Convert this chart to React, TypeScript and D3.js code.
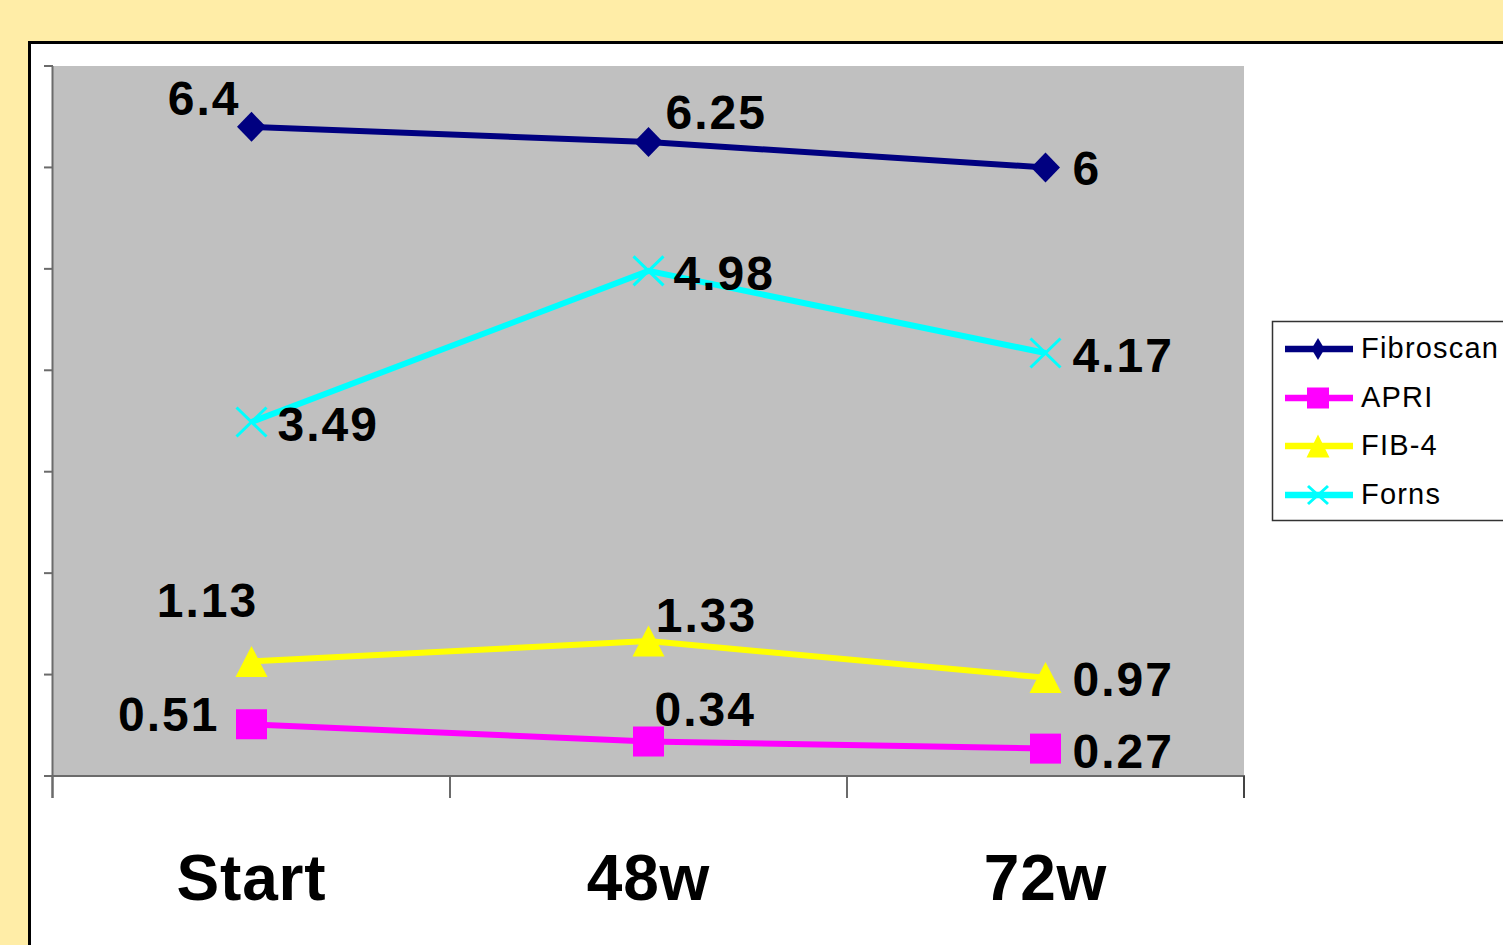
import React, { useEffect } from "react";
import * as d3 from "d3";

// Time points on the x axis
const timepoints = ["Start", "48w", "72w"];

// Score values per series
const fibroscanValues = [6.4, 6.25, 6];
const apriValues = [0.51, 0.34, 0.27];
const fib4Values = [1.13, 1.33, 0.97];
const fornsValues = [3.49, 4.98, 4.17];

// Y-axis tick values (no labels shown)
const yTicks = [0, 1, 2, 3, 4, 5, 6, 7];

const seriesNames = ["Fibroscan", "APRI", "FIB-4", "Forns"];

type Marker = "diamond" | "square" | "triangle" | "x";

// Per-point label offsets: [dx, dy, anchor]
type Place = [number, number, "start" | "middle" | "end"];

const W = 1503;
const H = 945;
const FONT = "'Liberation Sans', Arial, Helvetica, sans-serif";

const plot = { left: 53, right: 1244, top: 66, bottom: 776 };

const x = d3
  .scaleBand<string>()
  .domain(timepoints)
  .range([plot.left, plot.right])
  .paddingInner(0)
  .paddingOuter(0);

const y = d3.scaleLinear().domain([0, 7]).range([plot.bottom, plot.top]);

const cx = (c: string) => (x(c) ?? 0) + x.bandwidth() / 2;

const series: {
  name: string;
  values: number[];
  color: string;
  marker: Marker;
  places: Place[];
}[] = [
  {
    name: seriesNames[0],
    values: fibroscanValues,
    color: "#000080",
    marker: "diamond",
    places: [
      [-11, -12, "end"],
      [17, -13, "start"],
      [27, 18, "start"],
    ],
  },
  {
    name: seriesNames[1],
    values: apriValues,
    color: "#FF00FF",
    marker: "square",
    places: [
      [-32, 7, "end"],
      [6, -16, "start"],
      [27, 19, "start"],
    ],
  },
  {
    name: seriesNames[2],
    values: fib4Values,
    color: "#FFFF00",
    marker: "triangle",
    places: [
      [-44, -44, "middle"],
      [58, -9, "middle"],
      [27, 18, "start"],
    ],
  },
  {
    name: seriesNames[3],
    values: fornsValues,
    color: "#00FFFF",
    marker: "x",
    places: [
      [26, 19, "start"],
      [25, 19, "start"],
      [27, 19, "start"],
    ],
  },
];

function MarkerShape({
  kind,
  px,
  py,
  color,
  size,
}: {
  kind: Marker;
  px: number;
  py: number;
  color: string;
  size: { w: number; h: number };
}) {
  const hw = size.w / 2;
  const hh = size.h / 2;
  if (kind === "diamond") {
    return (
      <path
        d={`M${px},${py - hh}L${px + hw},${py}L${px},${py + hh}L${px - hw},${py}Z`}
        fill={color}
      />
    );
  }
  if (kind === "square") {
    return <rect x={px - hw} y={py - hh} width={size.w} height={size.h} fill={color} />;
  }
  if (kind === "triangle") {
    return (
      <path
        d={`M${px},${py - hh}L${px + hw},${py + hh}L${px - hw},${py + hh}Z`}
        fill={color}
      />
    );
  }
  return (
    <path
      d={`M${px - hw},${py - hh}L${px + hw},${py + hh}M${px + hw},${py - hh}L${px - hw},${py + hh}`}
      stroke={color}
      strokeWidth={3}
      fill="none"
    />
  );
}

const mainSizes: Record<Marker, { w: number; h: number }> = {
  diamond: { w: 29, h: 30 },
  square: { w: 31, h: 30 },
  triangle: { w: 32, h: 31 },
  x: { w: 30, h: 29 },
};

const legendSizes: Record<Marker, { w: number; h: number }> = {
  diamond: { w: 13, h: 22 },
  square: { w: 22, h: 21 },
  triangle: { w: 23, h: 23 },
  x: { w: 20, h: 18 },
};

export default function App() {
  useEffect(() => {
    document.body.style.margin = "0";
    document.body.style.overflow = "hidden";
  }, []);

  const line = d3
    .line<[string, number]>()
    .x((d) => cx(d[0]))
    .y((d) => y(d[1]));

  const axisColor = "#6b6b6b";
  const boundaries = [...timepoints.map((c) => x(c) ?? 0), plot.right];

  const legend = { x: 1272, y: 321, rowY: [349, 398, 446, 495] };

  return (
    <svg
      width={W}
      height={H}
      viewBox={`0 0 ${W} ${H}`}
      style={{ position: "absolute", left: 0, top: 0, display: "block" }}
      fontFamily={FONT}
    >
      {/* page background */}
      <rect x={0} y={0} width={W} height={H} fill="#FFEDA7" />
      {/* chart panel */}
      <rect x={29.5} y={42.5} width={W + 20} height={H + 20} fill="#FFFFFF" stroke="#000" strokeWidth={3} />

      {/* plot area */}
      <rect
        x={plot.left}
        y={plot.top}
        width={plot.right - plot.left}
        height={plot.bottom - plot.top}
        fill="#C0C0C0"
      />

      {/* y axis */}
      <line x1={plot.left - 0.5} x2={plot.left - 0.5} y1={plot.top} y2={plot.bottom + 22} stroke={axisColor} strokeWidth={2} />
      {yTicks.map((t) => (
        <line
          key={`yt${t}`}
          x1={44}
          x2={plot.left}
          y1={y(t)}
          y2={y(t)}
          stroke={axisColor}
          strokeWidth={2}
        />
      ))}

      {/* x axis */}
      <line x1={44} x2={plot.right + 1} y1={plot.bottom} y2={plot.bottom} stroke={axisColor} strokeWidth={2} />
      {boundaries.map((b, i) => (
        <line
          key={`xt${i}`}
          x1={i === 0 ? b - 0.5 : b}
          x2={i === 0 ? b - 0.5 : b}
          y1={plot.bottom}
          y2={plot.bottom + 22}
          stroke={i === boundaries.length - 1 ? "#444" : axisColor}
          strokeWidth={2}
        />
      ))}
      {timepoints.map((c) => (
        <text
          key={`xl${c}`}
          x={cx(c)}
          y={900}
          textAnchor="middle"
          fontSize={64}
          fontWeight="bold"
          letterSpacing={0.8}
          fill="#000"
        >
          {c}
        </text>
      ))}

      {/* series lines */}
      {series.map((s) => (
        <path
          key={`ln${s.name}`}
          d={line(timepoints.map((c, i) => [c, s.values[i]] as [string, number])) ?? ""}
          fill="none"
          stroke={s.color}
          strokeWidth={6}
        />
      ))}

      {/* markers */}
      {series.map((s) =>
        s.values.map((v, i) => (
          <MarkerShape
            key={`mk${s.name}${i}`}
            kind={s.marker}
            px={cx(timepoints[i])}
            py={y(v)}
            color={s.color}
            size={mainSizes[s.marker]}
          />
        ))
      )}

      {/* value labels */}
      {series.map((s) =>
        s.values.map((v, i) => {
          const [dx, dy, anchor] = s.places[i];
          return (
            <text
              key={`lb${s.name}${i}`}
              x={cx(timepoints[i]) + dx}
              y={y(v) + dy}
              textAnchor={anchor}
              fontSize={48}
              fontWeight="bold"
              letterSpacing={2}
              fill="#000"
            >
              {String(v)}
            </text>
          );
        })
      )}

      {/* legend */}
      <rect
        x={legend.x + 0.5}
        y={legend.y + 0.5}
        width={W}
        height={199}
        fill="#FFFFFF"
        stroke="#333"
        strokeWidth={1.5}
      />
      {series.map((s, i) => {
        const ly = legend.rowY[i];
        return (
          <g key={`lg${s.name}`}>
            <line x1={1285} x2={1353} y1={ly} y2={ly} stroke={s.color} strokeWidth={6.5} />
            <MarkerShape kind={s.marker} px={1318} py={ly} color={s.color} size={legendSizes[s.marker]} />
            <text x={1361} y={ly + 9} fontSize={29} letterSpacing={1.2} fill="#000">
              {s.name}
            </text>
          </g>
        );
      })}
    </svg>
  );
}
